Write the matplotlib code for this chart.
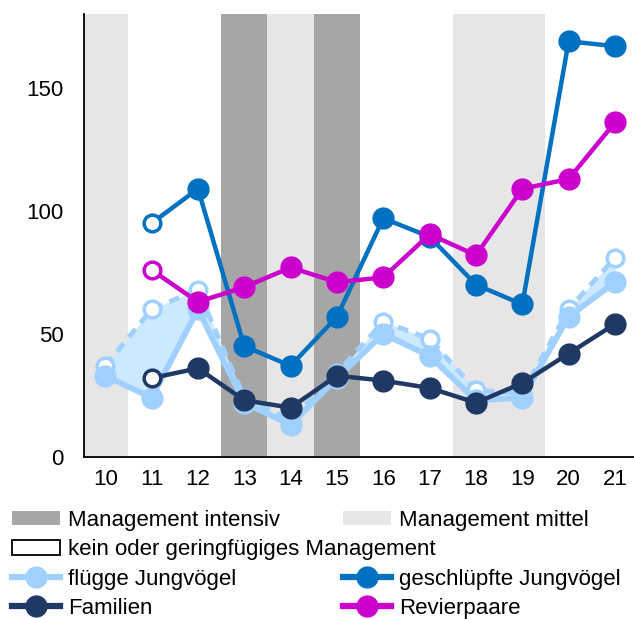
import numpy as np
import matplotlib.pyplot as plt
from matplotlib.patches import Patch
from matplotlib.lines import Line2D

plt.rcParams['font.family'] = ['Liberation Sans', 'DejaVu Sans']

years = [10, 11, 12, 13, 14, 15, 16, 17, 18, 19, 20, 21]

# background management level per year: 'i' intensiv, 'm' mittel, 'k' kein
management = ['m', 'k', 'k', 'i', 'm', 'i', 'k', 'k', 'm', 'm', 'k', 'k']

fluegge = [33, 24, 60, 22, 13, 32, 50, 41, 23, 24, 57, 71]
fluegge_alt = [37, 60, 68, 24, 15, 34, 55, 48, 27, 26, 60, 81]

sub_years = [11, 12, 13, 14, 15, 16, 17, 18, 19, 20, 21]
geschluepft = [95, 109, 45, 37, 57, 97, 89.5, 70, 62, 169, 167]
familien = [32, 36, 23, 20, 33, 31, 28, 22, 30, 42, 54]
revierpaare = [76, 63, 69, 77, 71, 73, 90.5, 82, 109, 113, 136]

c_light = '#9fd0ff'
c_fill = '#cde9ff'
c_blue = '#0070c0'
c_navy = '#1f3864'
c_mag = '#cc00cc'
c_int = '#a6a6a6'
c_mit = '#e6e6e6'

fig = plt.figure(figsize=(6.34, 6.19), dpi=100)
ax = fig.add_axes([0.133, 0.262, 0.867, 0.715])

band_col = {'i': c_int, 'm': c_mit}
for y, m in zip(years, management):
    if m in band_col:
        ax.axvspan(y - 0.5, y + 0.5, color=band_col[m], lw=0, zorder=0)

ax.fill_between(years, fluegge, fluegge_alt, color=c_fill, lw=0, zorder=1)
ax.plot(years, fluegge_alt, color=c_light, lw=3.5, ls=(0, (2.2, 1.6)), zorder=2,
        marker='o', ms=12, mfc='white', mec=c_light, mew=2.5)
ax.plot(years, fluegge, color=c_light, lw=4.2, zorder=3,
        marker='o', ms=15, mfc=c_light, mec=c_light)


def series(vals, col, z):
    ax.plot(sub_years, vals, color=col, lw=3.2, zorder=z)
    ax.plot(sub_years[1:], vals[1:], ls='none', marker='o', ms=15, color=col, zorder=z)
    ax.plot(sub_years[:1], vals[:1], ls='none', marker='o', ms=12, mfc='white',
            mec=col, mew=2.5, zorder=z)


series(geschluepft, c_blue, 4)
series(familien, c_navy, 5)
series(revierpaare, c_mag, 6)

ax.set_xlim(9.548, 21.41)
ax.set_ylim(0, 180)
ax.set_xticks(years)
ax.set_yticks([0, 50, 100, 150])
ax.tick_params(length=0, labelsize=16)
ax.tick_params(axis='x', pad=9)
ax.tick_params(axis='y', pad=15)
for s in ['top', 'right']:
    ax.spines[s].set_visible(False)
for s in ['left', 'bottom']:
    ax.spines[s].set_linewidth(1.3)

leg_kw = dict(frameon=False, fontsize=16, handlelength=2.15, handleheight=0.6,
              handletextpad=0.36, labelspacing=0.37, borderpad=0, borderaxespad=0)

h1 = [Patch(facecolor=c_int, edgecolor='none'),
      Patch(facecolor='white', edgecolor='black', lw=1.3),
      Line2D([], [], color=c_light, lw=4.5, marker='o', ms=15),
      Line2D([], [], color=c_navy, lw=4.5, marker='o', ms=15)]
l1 = ['Management intensiv', 'kein oder geringfügiges Management',
      'flügge Jungvögel', 'Familien']
h2 = [Patch(facecolor=c_mit, edgecolor='none'),
      Patch(facecolor='none', edgecolor='none'),
      Line2D([], [], color=c_blue, lw=4.5, marker='o', ms=15),
      Line2D([], [], color=c_mag, lw=4.5, marker='o', ms=15)]
l2 = ['Management mittel', ' ', 'geschlüpfte Jungvögel', 'Revierpaare']

fig.legend(h1, l1, loc='upper left', bbox_to_anchor=(0.019, 0.176), **leg_kw)
fig.legend(h2, l2, loc='upper left', bbox_to_anchor=(0.541, 0.176), **leg_kw)

fig.savefig('out.png', dpi=100)
